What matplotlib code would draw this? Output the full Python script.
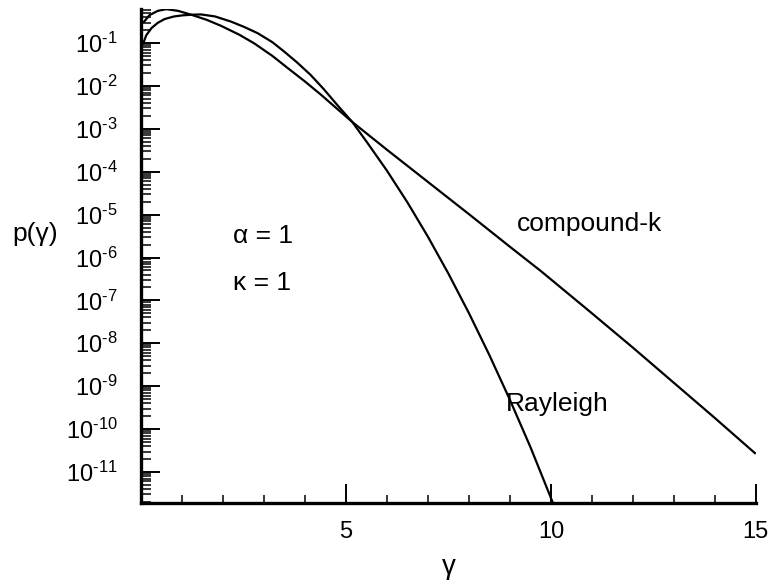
import numpy as np
import matplotlib
matplotlib.use("Agg")
import matplotlib.pyplot as plt
from matplotlib.ticker import LogLocator, FixedLocator, NullFormatter

plt.rcParams['font.family'] = ['Liberation Sans', 'DejaVu Sans']
plt.rcParams['mathtext.fontset'] = 'custom'
plt.rcParams['mathtext.rm'] = 'Liberation Sans'
plt.rcParams['mathtext.it'] = 'Liberation Sans:italic'

# ---- data (gamma, log10 p) ----
compound_gamma = [0.07, 0.2, 0.4, 0.61, 0.9, 1.22, 1.6, 1.95, 2.4, 2.76, 3.2,
                  3.57, 4.0, 4.38, 5.15, 6.0, 7.0, 8.0, 9.0, 9.76, 11.0,
                  12.0, 13.0, 14.0, 14.98]
compound_log = [-0.50, -0.35, -0.25, -0.21, -0.25, -0.34, -0.46, -0.60, -0.81,
                -1.01, -1.30, -1.58, -1.90, -2.20, -2.84, -3.49, -4.24,
                -4.99, -5.75, -6.32, -7.30, -8.10, -8.92, -9.74, -10.56]

rayleigh_gamma = [0.05, 0.12, 0.25, 0.4, 0.57, 0.8, 1.0, 1.22, 1.46, 1.8,
                  2.19, 2.5, 2.84, 3.2, 3.49, 3.8, 4.13, 4.45, 4.78, 5.15,
                  5.5, 6.0, 6.5, 7.0, 7.5, 8.0, 8.5, 9.0, 9.5, 10.04]
rayleigh_log = [-1.0, -0.82, -0.65, -0.53, -0.44, -0.38, -0.355, -0.34, -0.333,
                -0.38, -0.50, -0.62, -0.77, -0.98, -1.2, -1.45, -1.74, -2.07,
                -2.44, -2.84, -3.30, -3.98, -4.72, -5.52, -6.38, -7.30,
                -8.28, -9.32, -10.42, -11.70]

y_tick_exps = list(range(-11, 0))
x_ticks_major = [5, 10, 15]
x_ticks_minor = list(range(1, 15))

compound = 10.0 ** np.array(compound_log)
rayleigh = 10.0 ** np.array(rayleigh_log)

fig = plt.figure(figsize=(7.68, 5.82), dpi=100)
ax = fig.add_axes([0.184, 0.136, 0.8, 0.849])

ax.plot(compound_gamma, compound, color='black', lw=1.6)
ax.plot(rayleigh_gamma, rayleigh, color='black', lw=1.6)

ax.set_yscale('log')
ax.set_xlim(0, 15)
ax.set_ylim(10 ** -11.72, 10 ** -0.2)

ax.yaxis.set_major_locator(FixedLocator([10.0 ** e for e in y_tick_exps]))
ax.yaxis.set_minor_locator(LogLocator(base=10, subs=np.arange(2, 10), numticks=50))
ax.yaxis.set_minor_formatter(NullFormatter())
ax.set_yticklabels([r'$\mathdefault{10^{\text{-}%d}}$' % abs(e) for e in y_tick_exps])

ax.xaxis.set_major_locator(FixedLocator(x_ticks_major))
ax.xaxis.set_minor_locator(FixedLocator([t for t in x_ticks_minor if t not in x_ticks_major]))
ax.set_xticklabels([str(t) for t in x_ticks_major])

for s in ['top', 'right']:
    ax.spines[s].set_visible(False)
for s in ['left', 'bottom']:
    ax.spines[s].set_linewidth(2.4)

ax.tick_params(axis='y', which='major', direction='in', length=14, width=1.4,
               labelsize=17, pad=17)
ax.tick_params(axis='y', which='minor', direction='in', length=7, width=1.1)
ax.tick_params(axis='x', which='major', direction='in', length=14, width=1.4,
               labelsize=17, pad=13)
ax.tick_params(axis='x', which='minor', direction='in', length=6, width=1.1)

ax.set_xlabel('γ', fontsize=20, labelpad=8)
ax.set_ylabel('p(γ)', fontsize=19, rotation=0, va='center', ha='center')
ax.yaxis.set_label_coords(-0.172, 0.545)

ax.text(0.15, 0.54, 'α = 1', transform=ax.transAxes, fontsize=19, ha='left', va='center')
ax.text(0.15, 0.445, 'κ = 1', transform=ax.transAxes, fontsize=19, ha='left', va='center')
ax.text(0.611, 0.565, 'compound-k', transform=ax.transAxes, fontsize=19, ha='left', va='center')
ax.text(0.593, 0.2, 'Rayleigh', transform=ax.transAxes, fontsize=19, ha='left', va='center')

fig.savefig('out.png', dpi=100)
